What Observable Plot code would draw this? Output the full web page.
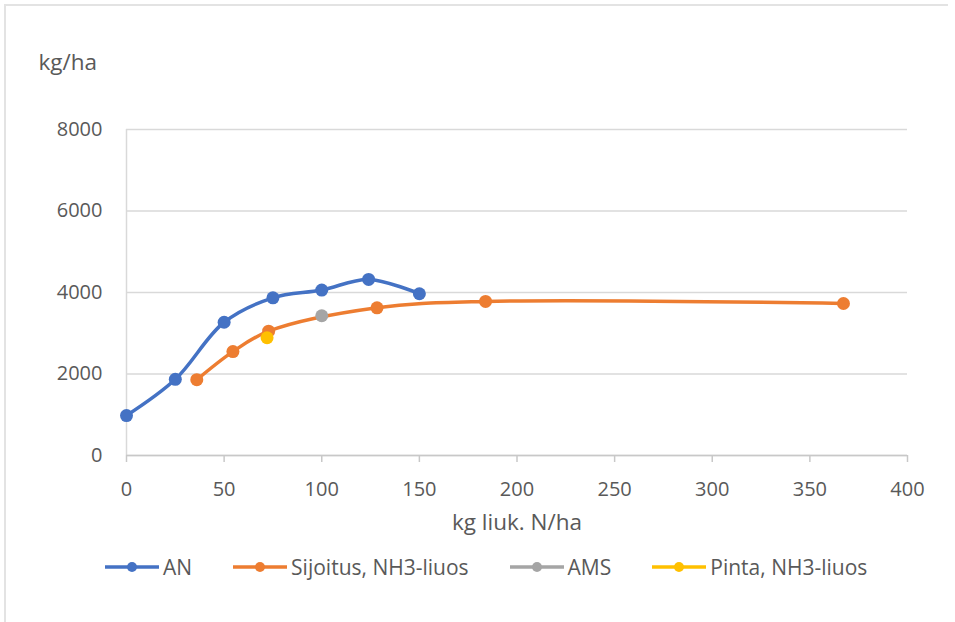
<!DOCTYPE html>
<html>
<head>
<meta charset="utf-8">
<script src="https://cdn.jsdelivr.net/npm/d3@7"></script>
<script src="https://cdn.jsdelivr.net/npm/@observablehq/plot@0.6"></script>
<style>
  html, body { margin: 0; padding: 0; background: #fff; }
  #wrap { position: relative; width: 955px; height: 622px; overflow: hidden; font-family: "Open Sans", sans-serif; color: #595959; }
  #frame { position: absolute; left: 4px; top: 4px; width: 944px; height: 620px; border-top: 2px solid #e3e3e3; border-left: 2px solid #e3e3e3; box-sizing: border-box; }
  #chart { position: absolute; left: 0; top: 0; }
  #legend { position: absolute; left: 105px; top: 552px; display: flex; align-items: center; gap: 41px; font-size: 21px; line-height: 30px; }
  .item { display: flex; align-items: center; }
  .item span { margin-left: 4px; }
</style>
</head>
<body>
<div id="wrap">
  <div id="frame"></div>
  <div id="chart"></div>
  <div id="legend"></div>
</div>
<script>
// Data
const anN = [0, 25, 50, 75, 100, 124, 150];
const anYield = [980, 1870, 3270, 3870, 4060, 4320, 3970];

const sijoitusN = [36, 54.5, 72.8, 128.3, 183.9, 367.2];
const sijoitusYield = [1860, 2550, 3050, 3625, 3780, 3730];

const amsN = [100];
const amsYield = [3430];

const pintaN = [72];
const pintaYield = [2890];

const seriesNames = ["AN", "Sijoitus, NH3-liuos", "AMS", "Pinta, NH3-liuos"];
const seriesColors = ["#4472c4", "#ed7d31", "#a5a5a5", "#ffc000"];

const xTicks = [0, 50, 100, 150, 200, 250, 300, 350, 400];
const yTicks = [0, 2000, 4000, 6000, 8000];
const xTitle = "kg liuk. N/ha";
const yTitle = "kg/ha";

const toRows = (xs, ys) => xs.map((x, i) => ({x, y: ys[i]}));
const an = toRows(anN, anYield);
const sij = toRows(sijoitusN, sijoitusYield);
const ams = toRows(amsN, amsYield);
const pinta = toRows(pintaN, pintaYield);

const chart = Plot.plot({
  width: 955,
  height: 540,
  marginLeft: 126,
  marginRight: 48,
  marginTop: 129,
  marginBottom: 85,
  style: {fontFamily: "Open Sans", fontSize: "20px", color: "#595959", background: "transparent"},
  x: {domain: [0, 400], label: null},
  y: {domain: [0, 8000], label: null},
  marks: [
    Plot.gridY(yTicks, {stroke: "#d9d9d9", strokeOpacity: 1, strokeWidth: 1.3}),
    Plot.ruleX([0], {stroke: "#d9d9d9", strokeWidth: 1.5}),
    Plot.ruleY([0], {stroke: "#c8c8c8", strokeWidth: 1.5}),
    Plot.axisY(yTicks, {tickSize: 0, tickPadding: 24, label: null, tickFormat: d => String(d)}),
    Plot.axisX(xTicks, {tickSize: 7, tickPadding: 19, stroke: "#c8c8c8", strokeWidth: 1.5, label: null, tickFormat: d => String(d)}),
    Plot.text([yTitle], {frameAnchor: "top-left", dx: -88, dy: -67, textAnchor: "start", lineAnchor: "middle", fill: "#595959", fontSize: 22.5}),
    Plot.text([xTitle], {frameAnchor: "bottom", dy: 67, textAnchor: "middle", lineAnchor: "middle", fill: "#595959", fontSize: 22.5}),
    Plot.line(an, {x: "x", y: "y", stroke: seriesColors[0], strokeWidth: 3.5, curve: "catmull-rom"}),
    Plot.line(sij, {x: "x", y: "y", stroke: seriesColors[1], strokeWidth: 3.5, curve: "catmull-rom"}),
    Plot.dot(an, {x: "x", y: "y", r: 6.5, fill: seriesColors[0], stroke: "none"}),
    Plot.dot(sij, {x: "x", y: "y", r: 6.5, fill: seriesColors[1], stroke: "none"}),
    Plot.dot(ams, {x: "x", y: "y", r: 6.5, fill: seriesColors[2], stroke: "none"}),
    Plot.dot(pinta, {x: "x", y: "y", r: 6.5, fill: seriesColors[3], stroke: "none"})
  ]
});
document.getElementById("chart").appendChild(chart);

const legend = document.getElementById("legend");
seriesNames.forEach((name, i) => {
  const item = document.createElement("div");
  item.className = "item";
  item.innerHTML = `<svg width="54" height="14"><line x1="0" y1="7" x2="54" y2="7" stroke="${seriesColors[i]}" stroke-width="3.5"/><circle cx="27" cy="7" r="5" fill="${seriesColors[i]}"/></svg><span>${name}</span>`;
  legend.appendChild(item);
});
</script>
</body>
</html>
